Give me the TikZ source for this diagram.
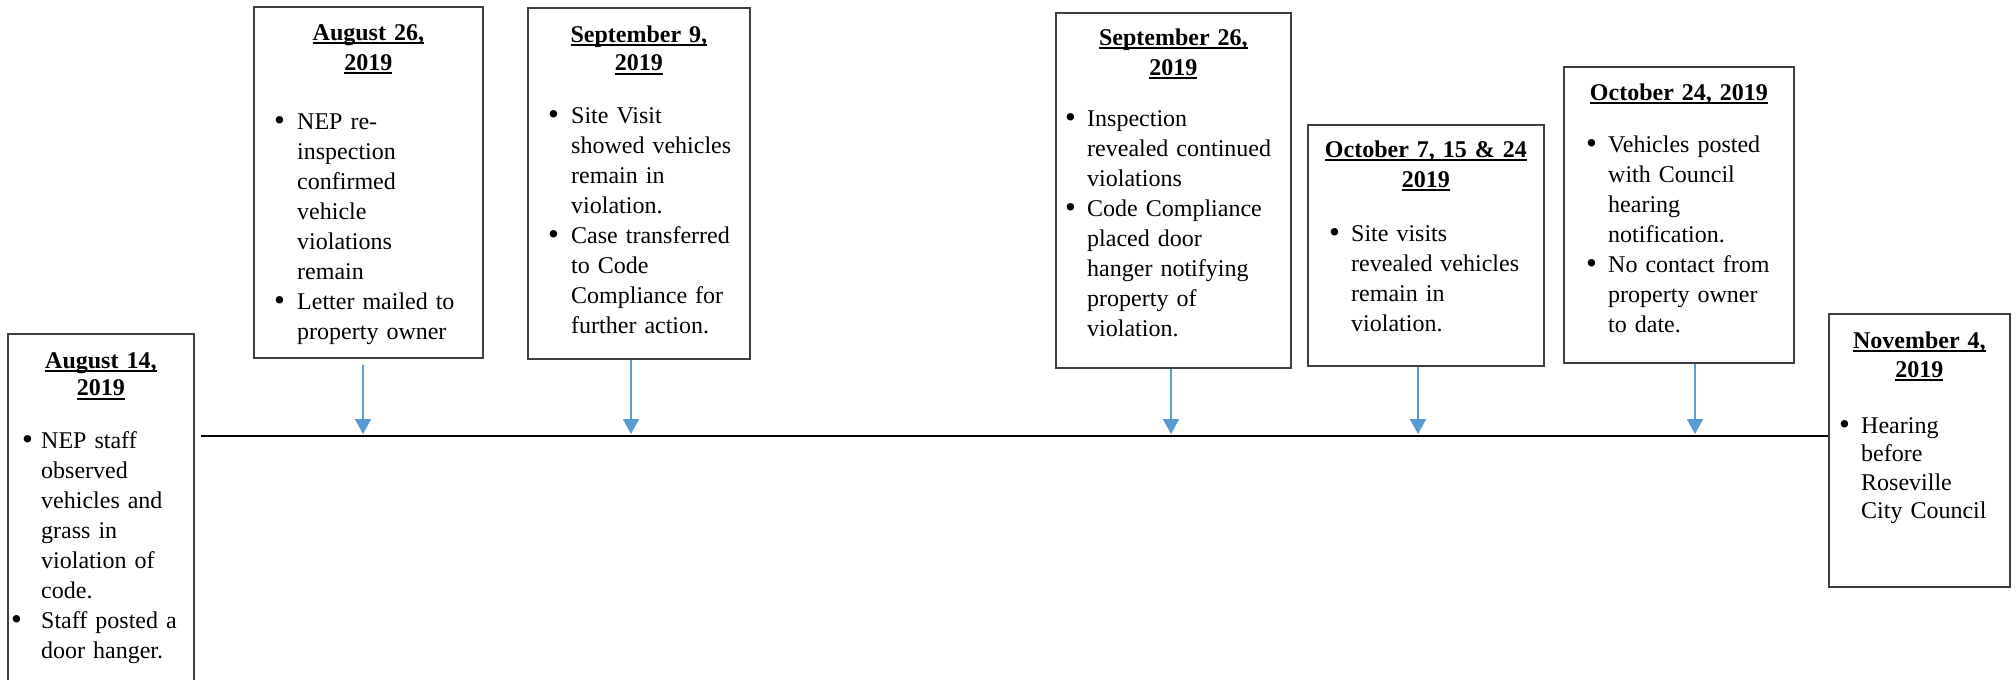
\documentclass[tikz,border=0pt]{standalone}
\usepackage{xcolor}
\usepackage{fontspec}
\setmainfont{Liberation Serif}
\usepackage{tikz}
\usetikzlibrary{arrows.meta, positioning}

\definecolor{framegray}{HTML}{404040}
\definecolor{tickblue}{HTML}{5B9BD5}

\newlength{\bulx}
\newlength{\bultx}
\newsavebox{\datebox}
\newcommand{\dateul}[1]{\leavevmode\sbox{\datebox}{\textbf{#1}}\rlap{\rule[-4pt]{\wd\datebox}{1.8pt}}\usebox{\datebox}}
\newcommand{\evbullet}{\raisebox{-1.5pt}{\fontsize{31}{31}\selectfont\textbullet}}
\newcommand{\bitem}[2][\bulx]{\hangindent=\bultx\hangafter=1\noindent\makebox[\bultx][l]{\hspace*{#1}\evbullet}#2\par}

\begin{document}
\begin{tikzpicture}[
    x=1pt, y=-1pt,
    evfont/.style={font=\fontsize{24}{#1}\selectfont},
    evframe/.style={draw=framegray, line width=1.8pt, anchor=north west, inner sep=0pt},
    evdate/.style={anchor=base, inner sep=0pt, align=center, evfont=30},
    evbody/.style={anchor=base west, inner sep=0pt, align=left, evfont=30},
    bullets/.style 2 args={execute at begin node={\setlength{\bulx}{#1}\setlength{\bultx}{#2}}},
    timeline/.style={line width=1.8pt, draw=black},
    evtick/.style={-{Triangle[width=16pt,length=15pt]}, line width=2pt, draw=tickblue}
]
\useasboundingbox (0,0) rectangle (2016,680);

% Event frames
\node[evframe, minimum width=186pt, minimum height=360pt] (aug14) at (7,333) {};
\node[evframe, minimum width=229pt, minimum height=351pt] (aug26) at (253,6) {};
\node[evframe, minimum width=222pt, minimum height=351pt] (sep9) at (527,7) {};
\node[evframe, minimum width=235pt, minimum height=355pt] (sep26) at (1055,12) {};
\node[evframe, minimum width=236pt, minimum height=241pt] (oct7) at (1307,124) {};
\node[evframe, minimum width=230pt, minimum height=296pt] (oct24) at (1563,66) {};
\node[evframe, minimum width=181pt, minimum height=273pt] (nov4) at (1828,313) {};

% Dates
\node[evdate, text width=186pt, evfont=27.5] (aug14date) at ([yshift=-35pt]aug14.north) {\dateul{August 14,}\\\dateul{2019}};
\node[evdate, text width=229pt] (aug26date) at ([yshift=-34pt]aug26.north) {\dateul{August 26,}\\\dateul{2019}};
\node[evdate, text width=222pt, evfont=28.5] (sep9date) at ([yshift=-35pt]sep9.north) {\dateul{September 9,}\\\dateul{2019}};
\node[evdate, text width=235pt] (sep26date) at ([yshift=-33pt]sep26.north) {\dateul{September 26,}\\\dateul{2019}};
\node[evdate, text width=236pt] (oct7date) at ([yshift=-33pt]oct7.north) {\dateul{October 7, 15 \& 24}\\\dateul{2019}};
\node[evdate, text width=230pt] (oct24date) at ([yshift=-34pt]oct24.north) {\dateul{October 24, 2019}};
\node[evdate, text width=181pt, evfont=29] (nov4date) at ([yshift=-35pt]nov4.north) {\dateul{November 4,}\\\dateul{2019}};

% Bullet texts
\node[evbody, text width=186pt, bullets={15pt}{34pt}] (aug14text) at ([yshift=-115pt]aug14.north west)
    {\bitem{NEP staff\newline observed\newline vehicles and\newline grass in\newline violation of\newline code.}\bitem[4pt]{Staff posted a\newline door hanger.}};
\node[evbody, text width=229pt, bullets={21pt}{44pt}] (aug26text) at ([yshift=-123pt]aug26.north west)
    {\bitem{NEP re-\newline inspection\newline confirmed\newline vehicle\newline violations\newline remain}\bitem{Letter mailed to\newline property owner}};
\node[evbody, text width=222pt, bullets={21pt}{44pt}] (sep9text) at ([yshift=-116pt]sep9.north west)
    {\bitem{Site Visit\newline showed vehicles\newline remain in\newline violation.}\bitem{Case transferred\newline to Code\newline Compliance for\newline further action.}};
\node[evbody, text width=235pt, bullets={10pt}{32pt}] (sep26text) at ([yshift=-114pt]sep26.north west)
    {\bitem{Inspection\newline revealed continued\newline violations}\bitem{Code Compliance\newline placed door\newline hanger notifying\newline property of\newline violation.}};
\node[evbody, text width=236pt, bullets={22pt}{44pt}] (oct7text) at ([yshift=-117pt]oct7.north west)
    {\bitem{Site visits\newline revealed vehicles\newline remain in\newline violation.}};
\node[evbody, text width=230pt, bullets={23pt}{45pt}] (oct24text) at ([yshift=-86pt]oct24.north west)
    {\bitem{Vehicles posted\newline with Council\newline hearing\newline notification.}\bitem{No contact from\newline property owner\newline to date.}};
\node[evbody, text width=181pt, evfont=28.5, bullets={11pt}{33pt}] (nov4text) at ([yshift=-120pt]nov4.north west)
    {\bitem{Hearing\newline before\newline Roseville\newline City Council}};

% Timeline
\coordinate (tlstart) at (201,436);
\draw[timeline] (tlstart) -- (tlstart -| nov4.west);

% Ticks
\coordinate (aug26tick) at (363,434);
\coordinate (sep9tick) at (631,434);
\coordinate (sep26tick) at (1171,434);
\coordinate (oct7tick) at (1418,434);
\coordinate (oct24tick) at (1695,434);
\draw[evtick, shorten <=6pt] (aug26.south -| aug26tick) -- (aug26tick);
\draw[evtick] (sep9.south -| sep9tick) -- (sep9tick);
\draw[evtick] (sep26.south -| sep26tick) -- (sep26tick);
\draw[evtick] (oct7.south -| oct7tick) -- (oct7tick);
\draw[evtick] (oct24.south -| oct24tick) -- (oct24tick);

\end{tikzpicture}
\end{document}
